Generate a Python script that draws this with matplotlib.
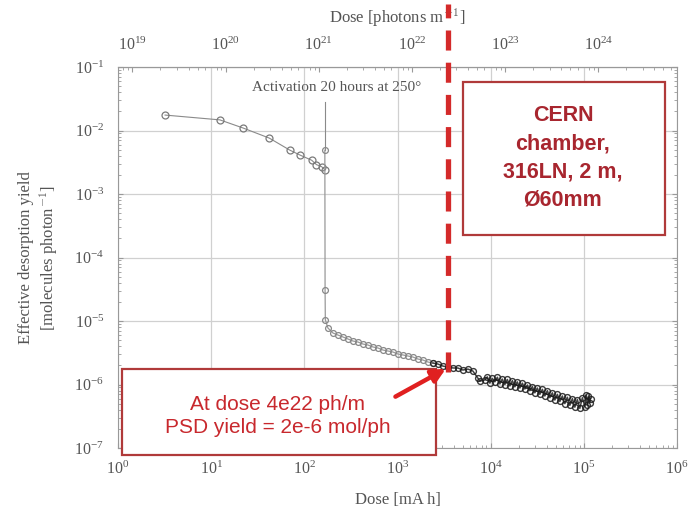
import matplotlib
matplotlib.use('Agg')
import matplotlib.pyplot as plt
from matplotlib.patches import Rectangle

plt.rcParams['font.family'] = ['Liberation Serif', 'DejaVu Serif']
plt.rcParams['mathtext.fontset'] = 'cm'

# Dose in mA h, yield in molecules/photon
before_dose = [3.2, 12.4, 21.8, 42, 70, 90, 120, 135, 153, 166]
before_yield = [1.75e-2, 1.47e-2, 1.1e-2, 7.6e-3, 4.9e-3, 4.1e-3, 3.4e-3, 2.9e-3, 2.7e-3, 2.4e-3]

# activation spike drawn as a thin vertical line
activation_dose = 166
activation_peak = 2.8e-2

after_dose = [166, 167, 168, 179, 203, 229, 260, 294, 332, 376, 425, 481, 545, 617, 697,
              789, 893, 1010, 1143, 1293, 1463, 1656, 1874, 2120, 2399, 2714, 3071, 3475,
              3930, 4447, 5032, 5694, 6442, 7290, 7660, 8670, 9200, 9800, 10400, 11090,
              11800, 12550, 13300, 14200, 15100, 16070, 17100, 18180, 19300, 20570, 21900,
              23280, 24800, 26340, 28000, 29800, 31700, 33720, 35900, 38150, 40600, 43170,
              45900, 48850, 52000, 55270, 58800, 62540, 66500, 70760, 75300, 80070, 85200,
              90600, 96400, 102500, 106000, 109000, 112000, 115900, 118000]
after_yield = [4.9e-3, 3.1e-5, 1.05e-5, 7.76e-6, 6.47e-6, 6.02e-6, 5.60e-6, 5.21e-6, 4.84e-6,
               4.67e-6, 4.34e-6, 4.19e-6, 3.90e-6, 3.76e-6, 3.49e-6, 3.37e-6, 3.25e-6, 3.02e-6,
               2.92e-6, 2.81e-6, 2.71e-6, 2.52e-6, 2.43e-6, 2.26e-6, 2.18e-6, 2.10e-6, 1.95e-6,
               1.89e-6, 1.82e-6, 1.82e-6, 1.69e-6, 1.75e-6, 1.63e-6, 1.26e-6, 1.13e-6, 1.18e-6,
               1.32e-6, 1.05e-6, 1.25e-6, 1.10e-6, 1.30e-6, 1.02e-6, 1.22e-6, 1.00e-6, 1.20e-6,
               0.95e-6, 1.15e-6, 0.92e-6, 1.10e-6, 0.88e-6, 1.05e-6, 0.85e-6, 0.98e-6, 0.80e-6,
               0.93e-6, 0.74e-6, 0.88e-6, 0.70e-6, 0.84e-6, 0.66e-6, 0.80e-6, 0.62e-6, 0.74e-6,
               0.57e-6, 0.70e-6, 0.54e-6, 0.66e-6, 0.50e-6, 0.63e-6, 0.47e-6, 0.60e-6, 0.44e-6,
               0.58e-6, 0.42e-6, 0.62e-6, 0.45e-6, 0.68e-6, 0.48e-6, 0.66e-6, 0.52e-6, 0.60e-6]

# mA h -> photons per metre
photons_per_mAh = 7e18
marker_dose = 3500
marker_yield = 1.85e-6

red = '#c8282d'
dark_red = '#a8262f'
grey = '#555555'

fig = plt.figure(figsize=(6.92, 5.2), dpi=100)
ax = fig.add_axes([118 / 692, 1 - 448 / 520, 559 / 692, 381 / 520])
ax.set_xscale('log')
ax.set_yscale('log')
ax.set_xlim(1, 1e6)
ax.set_ylim(1e-7, 1e-1)
ax.set_xticks([10.0 ** k for k in range(0, 7)])
ax.set_yticks([10.0 ** k for k in range(-7, 0)])

ax.grid(True, which='major', color='#d0d0d0', lw=0.9)
ax.plot(before_dose, before_yield, '-o', color='#8a8a8a', lw=0.8, ms=5,
        mfc='none', mec='#7a7a7a', mew=0.9)
ax.plot([activation_dose, activation_dose], [activation_peak, after_yield[0]],
        color='#8a8a8a', lw=0.8)
# early part of the run is lighter, late part dense and dark
split = 24
ax.plot(after_dose[:split + 1], after_yield[:split + 1], '-o', color='#999999', lw=0.9,
        ms=4.2, mfc='none', mec='#888888', mew=0.9)
ax.plot(after_dose[split:], after_yield[split:], '-o', color='#222222', lw=1.1,
        ms=4.2, mfc='none', mec='#1a1a1a', mew=1.0, alpha=0.85)

ax.text(224, 4.7e-2, 'Activation 20 hours at 250°', ha='center', va='center',
        fontsize=11, color=grey)

for s in ax.spines.values():
    s.set_color('#999999')
ax.tick_params(which='both', direction='in', top=False, right=True, colors='#999999',
               labelcolor=grey, labelsize=11.5)
ax.tick_params(axis='y', pad=10)
ax.tick_params(axis='x', pad=9)
ax.set_xlabel('Dose [mA h]', fontsize=12, color=grey, labelpad=10)
ax.set_ylabel('Effective desorption yield\n[molecules photon$^{-1}$]', fontsize=12,
              color=grey, labelpad=10)

top = ax.secondary_xaxis('top', functions=(lambda d: d * photons_per_mAh,
                                           lambda p: p / photons_per_mAh))
top.set_xticks([10.0 ** k for k in range(19, 25)])
top.tick_params(which='both', direction='in', colors='#999999', labelcolor=grey,
                labelsize=11.5, pad=9)
top.spines['top'].set_color('#999999')
top.set_xlabel('Dose [photons m$^{-1}$]', fontsize=12, color=grey, labelpad=10)

ax.axvline(marker_dose, ymin=0.2, ymax=1.165, clip_on=False, color='#d42a2a',
           lw=3.8, dashes=(3.8, 2.3), zorder=10)

# annotation boxes, placed in figure fractions
ax.add_patch(Rectangle((463 / 692, 1 - 235 / 520), 202 / 692, 153 / 520,
                       transform=fig.transFigure, facecolor='white',
                       edgecolor='#b03a3a', lw=1.6, zorder=5, clip_on=False))
ax.text(563 / 692, 1 - 158 / 520, 'CERN\nchamber,\n316LN, 2 m,\nØ60mm',
        transform=fig.transFigure, family='Liberation Sans', fontweight='bold',
        fontsize=15.5, color=dark_red, ha='center', va='center', linespacing=1.45,
        zorder=6)

ax.add_patch(Rectangle((122 / 692, 1 - 455 / 520), 314 / 692, 86 / 520,
                       transform=fig.transFigure, facecolor='white',
                       edgecolor='#b03a3a', lw=1.6, zorder=5, clip_on=False))
ax.text(278 / 692, 1 - 416 / 520, 'At dose 4e22 ph/m\nPSD yield = 2e-6 mol/ph',
        transform=fig.transFigure, family='Liberation Sans', fontsize=15, color=red,
        ha='center', va='center', linespacing=1.3, zorder=6)

ax.annotate('', xy=(marker_dose, marker_yield), xytext=(393 / 692, 1 - 398 / 520),
            textcoords='figure fraction',
            arrowprops=dict(arrowstyle='-|>', color='#e02020', lw=3.2, mutation_scale=20),
            zorder=11, annotation_clip=False)

fig.savefig('out.png', dpi=100)
